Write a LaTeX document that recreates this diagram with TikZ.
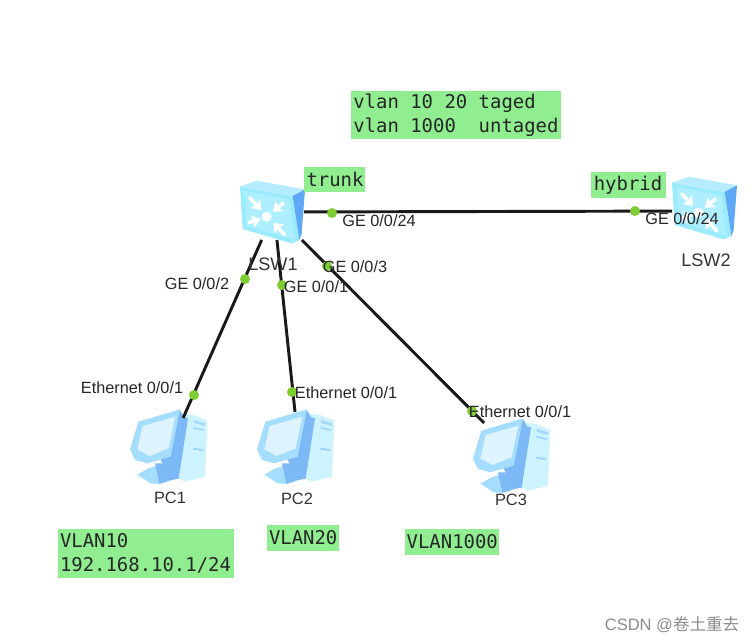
\documentclass[tikz,border=0pt]{standalone}
\usepackage{fontspec}
\setmainfont{Liberation Sans}
\newfontfamily\monof{DejaVu Sans Mono}
\newfontfamily\cjkf{Noto Sans CJK SC}
\usetikzlibrary{arrows.meta}
\definecolor{boxgreen}{HTML}{90EE90}
\definecolor{dotgreen}{HTML}{7FCC33}
\definecolor{swtop}{HTML}{B5ECFF}
\definecolor{swfront}{HTML}{9BEBFF}
\definecolor{swside}{HTML}{5FA8F5}
\definecolor{pclight}{HTML}{CDF3FF}
\definecolor{pcmid}{HTML}{A5DDFF}
\definecolor{pcdark}{HTML}{7DB9F7}
\definecolor{pcscreen}{HTML}{DDF4FF}
\newcommand{\ms}{\hspace*{8.55pt}}
\tikzset{
  hidden/.style={inner sep=0pt,outer sep=0pt,rectangle},
  greenbox/.style={fill=boxgreen,inner sep=0pt,outer sep=0pt,align=left,font=\monof\fontsize{14.2}{18}\selectfont,text=black!85},
  lbl/.style={inner sep=0pt,font=\fontsize{12.2}{14}\selectfont,text=black!85},
  name lbl/.style={inner sep=0pt,font=\fontsize{12.3}{14}\selectfont,text=black!80},
  sw lbl/.style={inner sep=0pt,font=\fontsize{13.6}{15}\selectfont,text=black!80},
  port/.style={circle,fill=dotgreen,inner sep=0pt,minimum size=7.5pt},
  link/.style={draw=black!90,line width=2.2pt},
  wa/.style={white,line width=2.6pt,-{Stealth[length=6.5pt,width=9.5pt,inset=1pt]}}
}
\newcommand{\switchicon}[2]{%
 \begin{scope}[shift={(#1,#2)},x=.25pt,y=-.25pt]
  \fill[swfront] (60,80) -- (218,108) -- (238,240) -- (215,250) -- (68,207) -- cycle;
  \fill[swtop] (60,80) -- (110,62) -- (255,88) -- (218,108) -- cycle;
  \fill[swside] (218,108) -- (255,88) -- (245,222) -- (238,240) -- cycle;
  \fill[white!18!swfront] (74,92) -- (208,118) -- (224,238) -- (80,198) -- cycle;
  \fill[white] (140,170) circle[radius=15];
  \draw[wa] (88,112) -- (124,150);
  \draw[wa] (192,128) -- (158,155);
  \draw[wa] (84,188) -- (122,178);
  \draw[wa] (196,226) -- (160,188);
 \end{scope}}
\newcommand{\pcicon}[2]{%
 \begin{scope}[shift={(#1,#2)},x=.25pt,y=-.25pt]
  \fill[pclight] (205,40) -- (250,45) -- (292,62) -- (285,230) -- (225,245) -- (195,230) -- cycle;
  \fill[pcdark!50!pclight] (252,60) -- (285,70) -- (284,78) -- (252,68) -- cycle;
  \fill[pcdark!50!pclight] (250,80) -- (282,88) -- (282,93) -- (250,86) -- cycle;
  \fill[pcdark!60!pclight] (250,143) -- (280,148) -- (280,153) -- (250,149) -- cycle;
  \fill[pcmid] (82,224) -- (115,205) -- (150,195) -- (198,236) -- (150,252) -- (122,250) -- cycle;
  \fill[pcdark] (135,190) -- (160,190) -- (172,245) -- (148,250) -- cycle;
  \fill[pcdark] (210,30) -- (222,52) -- (234,55) -- (206,236) -- (172,242) -- (160,195) -- (150,175) -- cycle;
  \fill[pcmid] (85,65) -- (210,28) -- (182,170) -- (112,190) -- (75,180) -- (60,148) -- cycle;
  \fill[pcscreen] (98,78) -- (196,50) -- (176,145) -- (118,168) -- (82,148) -- cycle;
 \end{scope}}
\begin{document}
\begin{tikzpicture}[x=.75pt,y=-.75pt]
\useasboundingbox[fill=white] (0,0) rectangle (756,643);
% icons
\switchicon{220}{160}
\switchicon{652}{156}
\pcicon{110}{400}
\pcicon{237}{400}
\pcicon{453}{409}
% invisible footprints
\node[hidden,minimum width=45pt,minimum height=42pt] (lsw1) at (274,212) {};
\node[hidden,minimum width=49.5pt,minimum height=42pt] (lsw2) at (705,211) {};
\node[hidden,minimum width=60pt,minimum height=48pt] (pc1) at (169,450) {};
\node[hidden,minimum width=60pt,minimum height=57pt] (pc2) at (299,450) {};
\node[hidden,minimum width=60pt,minimum height=40.5pt] (pc3) at (511,450) {};
% links
\draw[link] (lsw1) -- (lsw2);
\draw[link] (lsw1) -- (pc1);
\draw[link] (lsw1) -- (pc2);
\draw[link] (lsw1) -- (pc3);
% ports
\node[port] (p1) at (332,213) {};
\node[port] (p2) at (635,211) {};
\node[port] (p3) at (245,279) {};
\node[port] (p4) at (282,285) {};
\node[port] (p5) at (327,266) {};
\node[port] (p6) at (194,395) {};
\node[port] (p7) at (292,392) {};
\node[port] (p8) at (472,411) {};
% port labels
\node[lbl] (t1) at (379,221) {GE 0/0/24};
\node[lbl] (t2) at (682,219) {GE 0/0/24};
\node[lbl] (t3) at (197,284) {GE 0/0/2};
\node[lbl] (t4) at (316,287) {GE 0/0/1};
\node[lbl] (t5) at (355,267) {GE 0/0/3};
\node[lbl] (t6) at (132,388) {Ethernet 0/0/1};
\node[lbl] (t7) at (346,393) {Ethernet 0/0/1};
\node[lbl] (t8) at (520,412) {Ethernet 0/0/1};
% device names
\node[sw lbl] (n1) at (273,264) {LSW1};
\node[sw lbl] (n2) at (706,260) {LSW2};
\node[name lbl] (n3) at (170,498) {PC1};
\node[name lbl] (n4) at (297,499) {PC2};
\node[name lbl] (n5) at (511,500) {PC3};
% green notes
\node[greenbox,minimum width=157.5pt,minimum height=36pt,text width=154pt] (b1) at (456,115) {vlan\ms 10\ms 20\ms taged\\vlan\ms 1000\ms\ms untaged};
\node[greenbox,minimum width=45.75pt,minimum height=18.75pt,text width=42pt] (b2) at (334.5,179.5) {trunk};
\node[greenbox,minimum width=56.25pt,minimum height=19.5pt,text width=52pt] (b3) at (628.5,185) {hybrid};
\node[greenbox,minimum width=132pt,minimum height=36.75pt,text width=129pt] (b4) at (146,553.5) {VLAN10\\192.168.10.1/24};
\node[greenbox,minimum width=54pt,minimum height=19.5pt,text width=51pt] (b5) at (303,538) {VLAN20};
\node[greenbox,minimum width=70.5pt,minimum height=19.5pt,text width=68pt] (b6) at (452,542) {VLAN1000};
% watermark
\node[inner sep=0pt,text=black!45,font=\fontsize{12.4}{14}\selectfont] (wm) at (672,625) {CSDN @{\cjkf 卷土重去}};
\end{tikzpicture}
\end{document}
